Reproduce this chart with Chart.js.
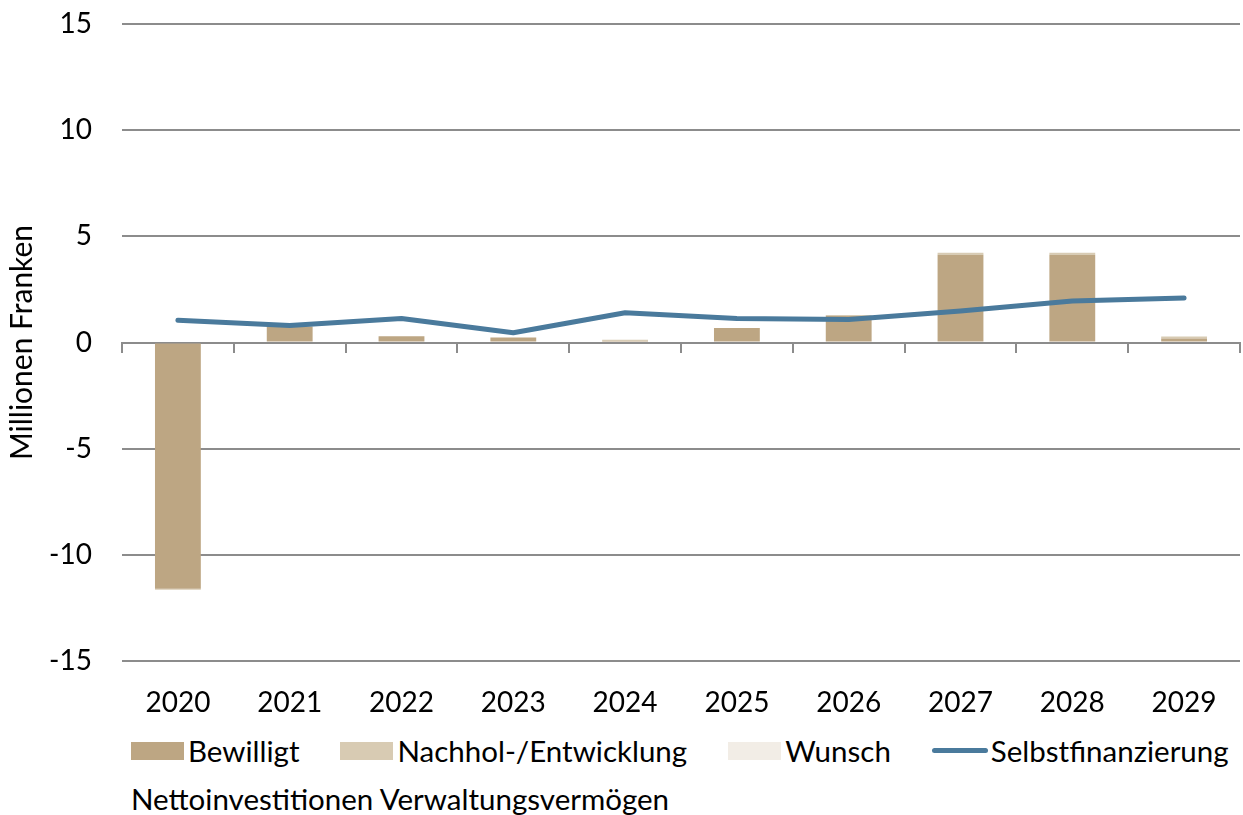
<!DOCTYPE html>
<html>
<head>
<meta charset="utf-8">
<script src="https://cdn.jsdelivr.net/npm/chart.js@4"></script>
<style>
  body { margin: 0; background: #fff; font-family: Lato, "Liberation Sans", sans-serif; }
  #wrap { position: relative; width: 1243px; height: 815px; }
  #chart { position: absolute; left: 0; top: 0; }
  #legend { position: absolute; left: 131px; top: 733px; display: flex; align-items: center; font-size: 29.5px; color: #000; }
  .item { display: flex; align-items: center; margin-right: 41px; }
  .item:last-child { margin-right: 0; }
  .sw { width: 53px; height: 18px; margin-right: 4px; }
  .ln { width: 56px; height: 5px; border-radius: 3px; margin-right: 3px; }
  #caption { position: absolute; left: 131px; top: 781px; font-size: 29.5px; color: #000; }
</style>
</head>
<body>
<div id="wrap">
  <canvas id="chart" width="1243" height="730"></canvas>
  <div id="legend"></div>
  <div id="caption">Nettoinvestitionen Verwaltungsvermögen</div>
</div>
<script>
const years = ["2020", "2021", "2022", "2023", "2024", "2025", "2026", "2027", "2028", "2029"];
const bewilligt = [-11.6, 0.75, 0.3, 0.24, 0.08, 0.68, 1.25, 4.13, 4.13, 0.19];
const nachhol = [-0.05, 0, 0, 0, 0.05, 0, 0.05, 0.1, 0.1, 0.09];
const wunsch = [0, 0, 0, 0, 0, 0, 0, 0, 0, 0];
const selbstfinanzierung = [1.05, 0.8, 1.13, 0.46, 1.4, 1.13, 1.08, 1.48, 1.95, 2.1];
const yTicks = [-15, -10, -5, 0, 5, 10, 15];

const gridColor = "#8c8c8c";
const tickFont = { family: "Lato, 'Liberation Sans', sans-serif", size: 28 };
const titleFont = { family: "Lato, 'Liberation Sans', sans-serif", size: 30 };

const series = [
  { label: "Bewilligt", data: bewilligt, color: "#bda683", type: "bar" },
  { label: "Nachhol-/Entwicklung", data: nachhol, color: "#d8cbb3", type: "bar" },
  { label: "Wunsch", data: wunsch, color: "#f2ede6", type: "bar" },
  { label: "Selbstfinanzierung", data: selbstfinanzierung, color: "#4a7a9c", type: "line" }
];

const datasets = series.map(s => s.type === "bar" ? {
  type: "bar",
  label: s.label,
  data: s.data,
  backgroundColor: s.color,
  stack: "inv",
  barPercentage: 0.41,
  categoryPercentage: 1,
  order: 2
} : {
  type: "line",
  label: s.label,
  data: s.data,
  borderColor: s.color,
  borderWidth: 5,
  borderCapStyle: "round",
  borderJoinStyle: "round",
  pointRadius: 0,
  tension: 0,
  stack: "sf",
  order: 1
});

// html legend
const legend = document.getElementById("legend");
series.forEach(s => {
  const item = document.createElement("div");
  item.className = "item";
  const mark = document.createElement("span");
  mark.className = s.type === "bar" ? "sw" : "ln";
  mark.style.background = s.color;
  item.appendChild(mark);
  item.appendChild(document.createTextNode(s.label));
  legend.appendChild(item);
});

new Chart(document.getElementById("chart"), {
  data: { labels: years, datasets: datasets },
  options: {
    responsive: false,
    animation: false,
    layout: { padding: { top: 24, right: 3, left: 0, bottom: 0 } },
    plugins: { legend: { display: false }, tooltip: { enabled: false } },
    scales: {
      x: {
        stacked: true,
        offset: true,
        grid: { display: false },
        border: { display: false },
        ticks: { color: "#000", font: tickFont, padding: 17, maxRotation: 0 },
        afterFit: s => { s.height = 69; }
      },
      xZero: {
        type: "category",
        position: { y: 0 },
        offset: true,
        grid: { display: true, offset: true, drawOnChartArea: false, tickLength: 9, color: gridColor, lineWidth: 2 },
        border: { display: true, color: gridColor, width: 2 },
        ticks: { display: false },
        afterFit: s => { s.height = 0; }
      },
      y: {
        stacked: true,
        min: -15,
        max: 15,
        afterBuildTicks: s => { s.ticks = yTicks.map(v => ({ value: v })); },
        grid: { color: gridColor, lineWidth: 2, drawTicks: false },
        border: { display: false },
        ticks: { color: "#000", font: tickFont, padding: 30 },
        title: { display: true, text: "Millionen Franken", color: "#000", font: titleFont, padding: 4 },
        afterFit: s => { s.width = 122; s.paddingTop = 0; s.paddingBottom = 0; }
      }
    }
  }
});
</script>
</body>
</html>
